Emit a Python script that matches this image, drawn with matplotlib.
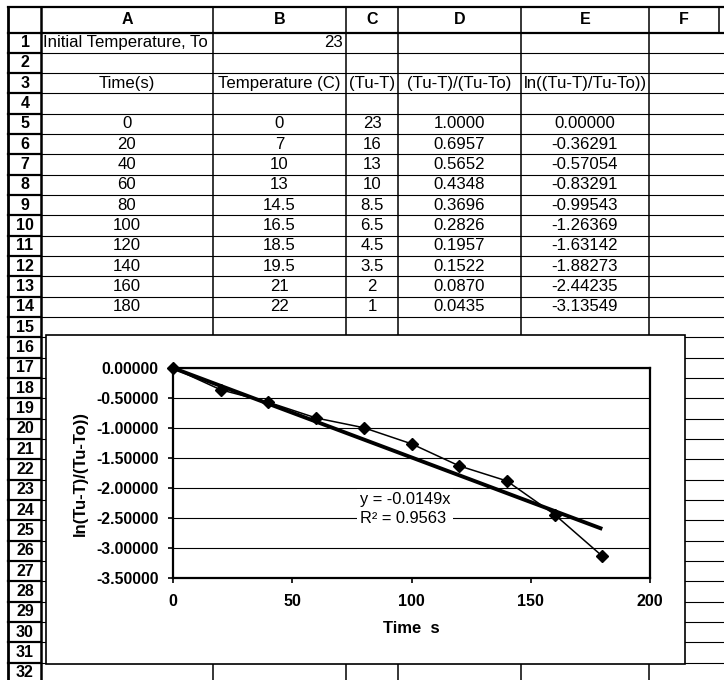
import matplotlib
matplotlib.use("Agg")
import matplotlib.pyplot as plt
from matplotlib.patches import Rectangle
import numpy as np

plt.rcParams['font.family'] = ['Liberation Sans', 'DejaVu Sans']

# ---------------- data ----------------
col_letters = ["A", "B", "C", "D", "E", "F"]
row_numbers = list(range(1, 33))
initial_label = "Initial Temperature, To"
initial_temp = 23
headers = ["Time(s)", "Temperature (C)", "(Tu-T)", "(Tu-T)/(Tu-To)", "ln((Tu-T)/Tu-To))"]
time_s = [0, 20, 40, 60, 80, 100, 120, 140, 160, 180]
temp_c = [0, 7, 10, 13, 14.5, 16.5, 18.5, 19.5, 21, 22]
tu_minus_t = [23, 16, 13, 10, 8.5, 6.5, 4.5, 3.5, 2, 1]
ratio = [1.0000, 0.6957, 0.5652, 0.4348, 0.3696, 0.2826, 0.1957, 0.1522, 0.0870, 0.0435]
ln_ratio = [0.00000, -0.36291, -0.57054, -0.83291, -0.99543, -1.26369,
            -1.63142, -1.88273, -2.44235, -3.13549]
trend_slope = -0.0149
trend_eq = "y = -0.0149x"
trend_r2 = "R² = 0.9563"
y_ticks = [0.0, -0.5, -1.0, -1.5, -2.0, -2.5, -3.0, -3.5]
y_tick_labels = ["0.00000", "-0.50000", "-1.00000", "-1.50000", "-2.00000",
                 "-2.50000", "-3.00000", "-3.50000"]
x_ticks = [0, 50, 100, 150, 200]
x_tick_labels = ["0", "50", "100", "150", "200"]
x_label = "Time  s"
y_label = "ln(Tu-T)/(Tu-To))"

# ---------------- layout (pixels) ----------------
W, H = 724, 680
fig = plt.figure(figsize=(W / 100, H / 100), dpi=100)
bg = fig.add_axes([0, 0, 1, 1])
bg.set_xlim(0, W)
bg.set_ylim(H, 0)
bg.axis('off')

col_x = [8, 41, 213, 346, 398, 521, 649, 719]
top = 7
hdr_bot = 32.5
rh = 20.33
row_bounds = [hdr_bot + k * rh for k in range(33)]

# horizontal lines
bg.plot([8, W], [top, top], color='black', lw=1.6)
for yb in row_bounds:
    if yb > H:
        continue
    lw_h = 1.6 if yb == hdr_bot else 0.8
    bg.plot([col_x[0], col_x[1]], [yb, yb], color='black', lw=1.6)
    bg.plot([col_x[1], W], [yb, yb], color='black', lw=lw_h)
# vertical lines
bg.plot([col_x[0], col_x[0]], [top, H], color='black', lw=2.0)
bg.plot([col_x[1], col_x[1]], [top, H], color='black', lw=1.8)
for xv in col_x[2:-1]:
    bg.plot([xv, xv], [top, H], color='black', lw=1.1)
bg.plot([col_x[-1], col_x[-1]], [top, hdr_bot], color='black', lw=1.1)

fs = 12.1
# column header letters
hdr_c = (top + hdr_bot) / 2
for i, letter in enumerate(col_letters):
    bg.text((col_x[i + 1] + col_x[i + 2]) / 2, hdr_c, letter, ha='center', va='center',
            fontsize=11.5, fontweight='bold')
# row numbers
def row_center(r):
    return hdr_bot + (r - 0.5) * rh
for r in row_numbers:
    bg.text((col_x[0] + col_x[1]) / 2 + 0.5, row_center(r), str(r), ha='center', va='center',
            fontsize=11.5, fontweight='bold')

# row 1
bg.text(col_x[1] + 2, row_center(1), initial_label, ha='left', va='center', fontsize=fs)
bg.text(col_x[3] - 3, row_center(1), str(initial_temp), ha='right', va='center', fontsize=fs)
# row 3 headers
for i, h in enumerate(headers):
    bg.text((col_x[i + 1] + col_x[i + 2]) / 2, row_center(3), h, ha='center', va='center',
            fontsize=fs)
# data rows 5..14
columns_txt = [
    [f"{v:g}" for v in time_s],
    [f"{v:g}" for v in temp_c],
    [f"{v:g}" for v in tu_minus_t],
    [f"{v:.4f}" for v in ratio],
    [f"{v:.5f}" for v in ln_ratio],
]
for ci, col in enumerate(columns_txt):
    cx = (col_x[ci + 1] + col_x[ci + 2]) / 2
    for ri, s in enumerate(col):
        bg.text(cx, row_center(5 + ri), s, ha='center', va='center', fontsize=fs)

# chart box
bg.add_patch(Rectangle((46, 335), 685 - 46, 664 - 335, facecolor='white',
                       edgecolor='black', lw=1.2, zorder=5))

# ---------------- chart ----------------
pl, pr, pt, pb = 173, 650, 368, 578
ax = fig.add_axes([pl / W, 1 - pb / H, (pr - pl) / W, (pb - pt) / H])
ax.set_facecolor('white')
ax.set_xlim(0, 200)
ax.set_ylim(-3.5, 0)
ax.set_yticks(y_ticks, labels=y_tick_labels, fontsize=11.3, fontweight='bold')
ax.set_xticks(x_ticks, labels=x_tick_labels, fontsize=11.5, fontweight='bold')
ax.tick_params(axis='both', direction='out', length=3.5, width=1.2, color='black')
ax.tick_params(axis='y', pad=7)
ax.tick_params(axis='x', pad=8)
ax.yaxis.grid(True, color='black', lw=0.8)
ax.set_axisbelow(True)
for s in ax.spines.values():
    s.set_linewidth(1.6)
    s.set_color('black')

tx = np.array([min(time_s), max(time_s)])
ax.plot(tx, trend_slope * tx, color='black', lw=2.8, zorder=3, solid_capstyle='butt')
ax.plot(time_s, ln_ratio, color='black', lw=1.1, marker='D', markersize=6.5,
        markerfacecolor='black', markeredgecolor='black', zorder=4, clip_on=False)

ax.text((360 - pl) / (pr - pl), (pb - 509) / (pb - pt), trend_eq + "\n" + trend_r2,
        transform=ax.transAxes, ha='left', va='center', fontsize=11.8, linespacing=1.4,
        bbox=dict(facecolor='white', edgecolor='none', pad=2), zorder=2.5)

ax.set_xlabel(x_label, fontsize=12, fontweight='bold')
ax.xaxis.set_label_coords(0.5, (pb - 621) / (pb - pt))
ax.set_ylabel(y_label, fontsize=12, fontweight='bold')
ax.yaxis.set_label_coords((88 - pl) / (pr - pl), 0.5)

fig.savefig("out.png", dpi=100)
